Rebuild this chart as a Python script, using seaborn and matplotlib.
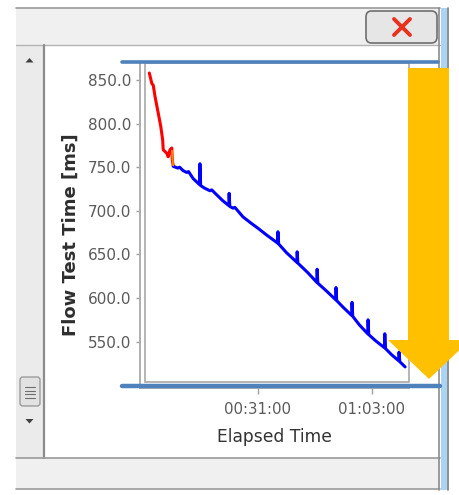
import matplotlib
matplotlib.use("Agg")
import matplotlib.pyplot as plt
from matplotlib.patches import Rectangle, FancyBboxPatch, Polygon
from matplotlib.lines import Line2D
import matplotlib.ticker as ticker
import pandas as pd
import seaborn as sns

# --- data (elapsed minutes, flow test time in ms) ---
red_t = [0.5, 1.2, 1.6, 2.1, 3.0, 3.7, 4.25, 4.4, 5.4, 5.8, 6.3, 6.8, 6.95, 7.2]
red_v = [858, 846, 844, 831, 812, 797, 781, 770, 766, 762, 770, 772, 758, 752]

orange_t = [6.85, 7.0, 7.2]
orange_v = [769, 759, 752]

blue_t = [7.2, 8.5, 9.0, 10.0, 11.0, 11.5, 12.8, 14.6, 14.7, 14.9, 16.0, 17.5,
          18.0, 19.5, 21.0, 22.8, 22.9, 23.1, 24.0, 24.5, 26.8, 29.0, 31.0,
          33.5, 36.5, 36.6, 36.8, 39.0, 41.9, 42.0, 42.2, 45.0, 47.5, 47.6,
          47.8, 50.5, 52.8, 52.9, 53.1, 55.0, 57.3, 57.4, 57.6, 59.5, 61.8,
          61.9, 62.1, 64.0, 66.5, 66.6, 66.8, 68.5, 70.5, 70.6, 70.8, 72.3]
blue_v = [751, 749, 750, 746, 744, 745, 737, 730, 754, 729, 726, 723,
          724, 718, 712, 706, 720, 705, 703, 704, 693, 686, 680,
          672, 663, 676, 662, 652, 641, 653, 640, 629, 618, 633,
          617, 607, 598, 612, 597, 589, 580, 595, 579, 569, 559,
          575, 558, 551, 543, 559, 542, 535, 528, 538, 527, 521]

y_ticks = [550, 600, 650, 700, 750, 800, 850]
x_ticks = [31, 63]
x_tick_labels = ["00:31:00", "01:03:00"]

W, H = 460, 495

sns.set_theme(style="white")
plt.rcParams["font.family"] = ["DejaVu Sans"]

fig = plt.figure(figsize=(W / 100, H / 100), dpi=100)
fig.patch.set_facecolor("white")


def fx(x):
    return x / W


def fy(y):
    return 1 - y / H


def rect(x0, y0, x1, y1, **kw):
    fig.add_artist(Rectangle((fx(x0), fy(y1)), (x1 - x0) / W, (y1 - y0) / H,
                             transform=fig.transFigure, **kw))


def hline(x0, x1, y, **kw):
    fig.add_artist(Line2D([fx(x0), fx(x1)], [fy(y), fy(y)], transform=fig.transFigure, **kw))


def vline(x, y0, y1, **kw):
    fig.add_artist(Line2D([fx(x), fx(x)], [fy(y0), fy(y1)], transform=fig.transFigure, **kw))


def poly(pts, **kw):
    fig.add_artist(Polygon([(fx(a), fy(b)) for a, b in pts], closed=True,
                           transform=fig.transFigure, **kw))


# ==========================================
# window chrome (dialog around the chart)
# ==========================================
rect(16, 8, 440, 45, facecolor="#f0f0f0", edgecolor="none", zorder=-3)
hline(16, 440, 7.5, color="#9a9a9a", lw=1.2, zorder=-2)
hline(16, 440, 44.5, color="#b4b4b4", lw=1.0, zorder=-2)

# close button
fig.add_artist(FancyBboxPatch((fx(366), fy(43)), 71 / W, 32 / H,
                              boxstyle="round,pad=0,rounding_size=0.012",
                              transform=fig.transFigure, facecolor="#e6e6e6",
                              edgecolor="#6e6e6e", lw=1.2, zorder=-1))
fig.add_artist(Line2D([fx(394), fx(410)], [fy(19), fy(35)], transform=fig.transFigure,
                      color="#e8321e", lw=2.8, solid_capstyle="round", zorder=2))
fig.add_artist(Line2D([fx(394), fx(410)], [fy(35), fy(19)], transform=fig.transFigure,
                      color="#e8321e", lw=2.8, solid_capstyle="round", zorder=2))

# left scrollbar
rect(16, 45, 43, 458, facecolor="#ebebeb", edgecolor="none", zorder=-3)
vline(44, 45, 458, color="#8c8c8c", lw=1.6, zorder=-2)
poly([(25.5, 62.5), (33.5, 62.5), (29.5, 58)], facecolor="#404040", edgecolor="none", zorder=-1)
poly([(25.5, 419), (33.5, 419), (29.5, 423.5)], facecolor="#404040", edgecolor="none", zorder=-1)
fig.add_artist(FancyBboxPatch((fx(20), fy(406)), 20 / W, 29 / H,
                              boxstyle="round,pad=0,rounding_size=0.006",
                              transform=fig.transFigure, facecolor="#e2e2e2",
                              edgecolor="#9c9c9c", lw=1.0, zorder=-1))
for gy in [387, 390.5, 394, 397.5]:
    hline(25, 35, gy, color="#6e6e6e", lw=0.8, zorder=-1)

# bottom bar
rect(16, 458, 440, 488, facecolor="#f0f0f0", edgecolor="none", zorder=-3)
hline(16, 440, 458, color="#9a9a9a", lw=1.2, zorder=-2)
hline(16, 440, 488.5, color="#9a9a9a", lw=1.2, zorder=-2)

# right border
vline(439.5, 8, 490, color="#8c8c8c", lw=1.2, zorder=-2)
rect(441, 8, 447, 490, facecolor="#aad4f4", edgecolor="none", zorder=-2)
vline(448.5, 8, 490, color="#7a7a7a", lw=1.2, zorder=-2)

# ==========================================
# chart
# ==========================================
ax = fig.add_axes([fx(140), fy(388), 269 / W, 325 / H])
ax.set_facecolor("white")

df = pd.concat([
    pd.DataFrame({"t": red_t, "v": red_v, "seg": "red"}),
    pd.DataFrame({"t": blue_t, "v": blue_v, "seg": "blue"}),
], ignore_index=True)

sns.lineplot(data=df, x="t", y="v", hue="seg", hue_order=["red", "blue"],
             palette={"red": "#ff0000", "blue": "#0000ff"},
             sort=False, estimator=None, lw=2.2, legend=False, ax=ax)
# short orange piece where the two runs meet
sns.lineplot(x=orange_t, y=orange_v, color="#ff8c00", sort=False, estimator=None,
             lw=1.3, ax=ax)

ax.set_xlim(-2.12, 73.39)
ax.set_ylim(496.8, 869.5)

ax.set_yticks(y_ticks)
ax.yaxis.set_major_formatter(ticker.FormatStrFormatter("%.1f"))
ax.set_xticks(x_ticks, labels=x_tick_labels)

ax.tick_params(axis="y", left=True, length=3, width=1, color="#a0a0a0", pad=3.5,
               labelsize=11, labelcolor="#5a5a5a")
ax.tick_params(axis="x", bottom=True, length=4, width=1, color="#a0a0a0", pad=6,
               labelsize=10.8, labelcolor="#5a5a5a")

for side in ["top", "right"]:
    ax.spines[side].set_visible(False)
for side in ["left", "bottom"]:
    ax.spines[side].set_color("#a8a8a8")
    ax.spines[side].set_linewidth(1.3)

ax.set_ylabel("Flow Test Time [ms]", fontsize=13, fontweight="bold", color="#2e2e2e")
ax.yaxis.set_label_coords(-0.225, 0.471)
ax.set_xlabel("Elapsed Time", fontsize=12.3, color="#333333")
ax.xaxis.set_label_coords(0.5, -0.122)

# inner plot border (double frame)
rect(145, 63, 409, 382, facecolor="none", edgecolor="#a8a8a8", lw=1.2, zorder=1)

# blue guide lines above and below the plot
hline(122, 438, 62, color="#4f81bd", lw=2.6, zorder=5)
hline(122, 440, 385.5, color="#4f81bd", lw=3.2, zorder=5)

# orange down arrow
poly([(408, 68), (449, 68), (449, 340), (470, 340), (429, 379), (388, 340), (408, 340)],
     facecolor="#ffc000", edgecolor="none", zorder=6)

fig.savefig("out.png", dpi=100)
